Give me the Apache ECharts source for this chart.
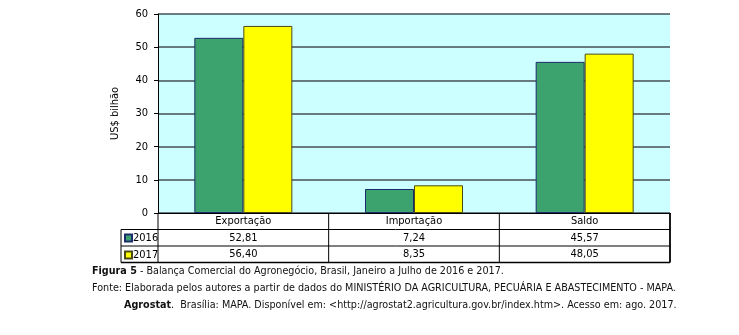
<!DOCTYPE html>
<html><head><meta charset="utf-8">
<script src="https://cdn.jsdelivr.net/npm/echarts@6/dist/echarts.min.js"></script>
<style>html,body{margin:0;padding:0;background:#fff}#c{width:739px;height:335px}</style>
</head><body><div id="c"></div>
<script>
const categories = ['Exportação', 'Importação', 'Saldo'];
const seriesNames = ['2016', '2017'];
const values2016 = [52.81, 7.24, 45.57];
const values2017 = [56.40, 8.35, 48.05];
const yTicks = [0, 10, 20, 30, 40, 50, 60];

const FONT = '"DejaVu Sans Condensed", "DejaVu Sans", sans-serif';
const L = 158, R = 670, T = 14, B = 213, ROW = 16.5, LEG = 121;
const CAP = 10.7;
const fmt = v => v.toFixed(2).replace('.', ',');

const chart = echarts.init(document.getElementById('c'));
const lines = [];
const rowY = [B, B + ROW, B + 2 * ROW, B + 3 * ROW];
[1, 2, 3].forEach(i => lines.push({x1: LEG, y1: rowY[i], x2: R, y2: rowY[i], w: i === 3 ? 1.5 : 1}));
const colW = (R - L) / categories.length;
for (let i = 0; i <= categories.length; i++) {
  const x = L + i * colW;
  lines.push({x1: x, y1: B, x2: x, y2: rowY[3], w: i === categories.length ? 1.8 : 1});
}
lines.push({x1: LEG, y1: rowY[1], x2: LEG, y2: rowY[3], w: 1});

chart.setOption({
  animation: false,
  textStyle: {fontFamily: FONT},
  grid: {left: L, right: 739 - R, top: T, bottom: 335 - B, show: true, backgroundColor: '#ccffff', borderWidth: 0},
  legend: {
    data: seriesNames, orient: 'vertical', left: LEG + 3, top: rowY[1] + 3, itemGap: 6,
    itemWidth: 7, itemHeight: 7, icon: 'rect', padding: 0,
    textStyle: {fontFamily: FONT, fontSize: 11, color: '#000', padding: [0, 0, 0, -4]}
  },
  xAxis: {
    type: 'category', data: categories,
    axisLine: {lineStyle: {color: '#000', width: 1}},
    axisTick: {show: false},
    axisLabel: {
      margin: 0, interval: 0, color: '#000', fontSize: 11, fontFamily: FONT, lineHeight: ROW, verticalAlign: 'top',
      formatter: (v, i) => v + '\n' + fmt(values2016[i]) + '\n' + fmt(values2017[i])
    }
  },
  yAxis: {
    type: 'value', min: yTicks[0], max: yTicks[yTicks.length - 1], interval: 10,
    name: 'US$ bilhão', nameLocation: 'middle', nameGap: 37, nameRotate: 90,
    nameTextStyle: {fontFamily: FONT, fontSize: 11, color: '#000'},
    axisLine: {show: true, lineStyle: {color: '#000', width: 1}},
    axisTick: {show: true, length: 4, lineStyle: {color: '#000'}},
    axisLabel: {color: '#000', fontSize: 11, fontFamily: FONT, margin: 10},
    splitLine: {lineStyle: {color: '#445056', width: 1.5}}
  },
  series: [
    {name: seriesNames[0], type: 'bar', data: values2016, barWidth: 49, barGap: '0%',
     itemStyle: {color: '#3ca26e', borderColor: '#1c2c6c', borderWidth: 1}},
    {name: seriesNames[1], type: 'bar', data: values2017, barWidth: 49, barGap: '0%',
     itemStyle: {color: '#ffff00', borderColor: '#4a4a18', borderWidth: 1}}
  ],
  title: [
    {left: 92, top: 266, padding: 0, text: '{b|Figura 5} - Balança Comercial do Agronegócio, Brasil, Janeiro a Julho de 2016 e 2017.',
     textStyle: {fontFamily: FONT, fontSize: CAP, fontWeight: 'normal', color: '#111', rich: {b: {fontWeight: 'bold', fontFamily: FONT, fontSize: CAP, color: '#111'}}}},
    {left: 92, top: 283, padding: 0, text: 'Fonte: Elaborada pelos autores a partir de dados do MINISTÉRIO DA AGRICULTURA, PECUÁRIA E ABASTECIMENTO - MAPA.',
     textStyle: {fontFamily: FONT, fontSize: CAP, fontWeight: 'normal', color: '#111'}},
    {left: 124, top: 300, padding: 0, text: '{b|Agrostat}.  Brasília: MAPA. Disponível em: <http://agrostat2.agricultura.gov.br/index.htm>. Acesso em: ago. 2017.',
     textStyle: {fontFamily: FONT, fontSize: CAP, fontWeight: 'normal', color: '#111', rich: {b: {fontWeight: 'bold', fontFamily: FONT, fontSize: CAP, color: '#111'}}}}
  ],
  graphic: lines.map(l => ({type: 'line', shape: {x1: l.x1, y1: l.y1, x2: l.x2, y2: l.y2}, style: {stroke: '#000', lineWidth: l.w}, z: 10}))
});
</script></body></html>
